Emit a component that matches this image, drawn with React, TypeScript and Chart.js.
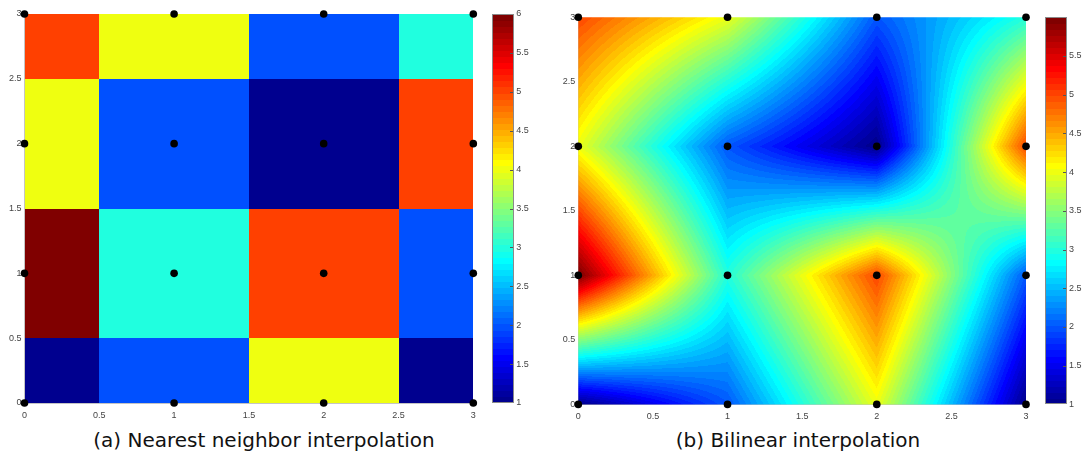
import React, { useEffect, useRef } from 'react';
import { Chart, registerables } from 'chart.js';

Chart.register(...registerables);

// grid coordinates
const gridX = [0, 1, 2, 3];
const gridY = [0, 1, 2, 3];
// values at the grid points, one row per y
const valuesY0 = [1, 2, 4, 1];
const valuesY1 = [6, 3, 5, 2];
const valuesY2 = [4, 2, 1, 5];
const valuesY3 = [5, 4, 2, 3];
const gridValues = [valuesY0, valuesY1, valuesY2, valuesY3];

const axisTicks = [0, 0.5, 1, 1.5, 2, 2.5, 3];
const colorTicksLeft = [1, 1.5, 2, 2.5, 3, 3.5, 4, 4.5, 5, 5.5, 6];
const colorTicksRight = [1, 1.5, 2, 2.5, 3, 3.5, 4, 4.5, 5, 5.5];
const colorMin = 1;
const colorMax = 6;
const captions = ['(a) Nearest neighbor interpolation', '(b) Bilinear interpolation'];

// MATLAB-style jet colormap with 64 entries
function buildJet(n: number): number[][] {
  const m = Math.ceil(n / 4);
  const u: number[] = [];
  for (let i = 1; i <= m; i++) u.push(i / m);
  for (let i = 1; i < m; i++) u.push(1);
  for (let i = m; i >= 1; i--) u.push(i / m);
  const g0 = Math.ceil(m / 2) - (n % 4 === 1 ? 1 : 0);
  const J = Array.from({ length: n }, () => [0, 0, 0]);
  u.forEach((val, k) => {
    const g = g0 + k + 1;
    const r = g + m;
    const b = g - m;
    if (r >= 1 && r <= n) J[r - 1][0] = val;
    if (g >= 1 && g <= n) J[g - 1][1] = val;
    if (b >= 1 && b <= n) J[b - 1][2] = val;
  });
  return J.map((c) => c.map((v) => Math.round(v * 255)));
}
const jet = buildJet(64);

function colorIndex(v: number): number {
  const n = jet.length;
  let idx = Math.floor(((v - colorMin) / (colorMax - colorMin)) * n);
  if (idx < 0) idx = 0;
  if (idx > n - 1) idx = n - 1;
  return idx;
}
function rgb(c: number[]): string {
  return `rgb(${c[0]},${c[1]},${c[2]})`;
}

function findCell(arr: number[], v: number): number {
  let i = 0;
  while (i < arr.length - 2 && v >= arr[i + 1]) i++;
  return i;
}

function bilinear(x: number, y: number): number {
  const i = findCell(gridX, x);
  const j = findCell(gridY, y);
  const u = (x - gridX[i]) / (gridX[i + 1] - gridX[i]);
  const t = (y - gridY[j]) / (gridY[j + 1] - gridY[j]);
  const f00 = gridValues[j][i];
  const f10 = gridValues[j][i + 1];
  const f01 = gridValues[j + 1][i];
  const f11 = gridValues[j + 1][i + 1];
  return (1 - u) * (1 - t) * f00 + u * (1 - t) * f10 + (1 - u) * t * f01 + u * t * f11;
}

const heatmapPlugin = {
  id: 'heatmap',
  beforeDatasetsDraw(chart: any, _args: any, opts: any) {
    const { ctx, chartArea: a } = chart;
    const xS = chart.scales.x;
    const yS = chart.scales.y;
    ctx.save();
    ctx.beginPath();
    ctx.rect(a.left, a.top, a.right - a.left, a.bottom - a.top);
    ctx.clip();
    if (opts.mode === 'nearest') {
      const nx = gridX.length;
      const ny = gridY.length;
      for (let j = 0; j < ny; j++) {
        for (let i = 0; i < nx; i++) {
          const xa = i === 0 ? gridX[0] : (gridX[i - 1] + gridX[i]) / 2;
          const xb = i === nx - 1 ? gridX[nx - 1] : (gridX[i] + gridX[i + 1]) / 2;
          const ya = j === 0 ? gridY[0] : (gridY[j - 1] + gridY[j]) / 2;
          const yb = j === ny - 1 ? gridY[ny - 1] : (gridY[j] + gridY[j + 1]) / 2;
          const px0 = Math.round(xS.getPixelForValue(xa));
          const px1 = Math.round(xS.getPixelForValue(xb));
          const py0 = Math.round(yS.getPixelForValue(yb));
          const py1 = Math.round(yS.getPixelForValue(ya));
          ctx.fillStyle = rgb(jet[colorIndex(gridValues[j][i])]);
          ctx.fillRect(px0, py0, px1 - px0, py1 - py0);
        }
      }
    } else {
      const x0 = Math.floor(a.left);
      const x1 = Math.ceil(a.right);
      const y0 = Math.floor(a.top);
      const y1 = Math.ceil(a.bottom);
      const w = x1 - x0;
      const h = y1 - y0;
      const off = document.createElement('canvas');
      off.width = w;
      off.height = h;
      const octx = off.getContext('2d')!;
      const img = octx.createImageData(w, h);
      const xmin = gridX[0], xmax = gridX[gridX.length - 1];
      const ymin = gridY[0], ymax = gridY[gridY.length - 1];
      for (let py = 0; py < h; py++) {
        let dy = yS.getValueForPixel(y0 + py + 0.5);
        dy = Math.min(ymax, Math.max(ymin, dy));
        for (let px = 0; px < w; px++) {
          let dx = xS.getValueForPixel(x0 + px + 0.5);
          dx = Math.min(xmax, Math.max(xmin, dx));
          const c = jet[colorIndex(bilinear(dx, dy))];
          const o = (py * w + px) * 4;
          img.data[o] = c[0];
          img.data[o + 1] = c[1];
          img.data[o + 2] = c[2];
          img.data[o + 3] = 255;
        }
      }
      octx.putImageData(img, 0, 0);
      ctx.drawImage(off, x0, y0);
    }
    ctx.restore();
  },
};

const colorbarPlugin = {
  id: 'colorbar',
  afterDatasetsDraw(chart: any, _args: any, opts: any) {
    const { ctx, chartArea: a } = chart;
    const cb = chart.scales.cb;
    const bx = Math.round(a.right + opts.gap);
    const bw = opts.width;
    const n = jet.length;
    const top = Math.round(cb.getPixelForValue(colorMax));
    const bot = Math.round(cb.getPixelForValue(colorMin));
    ctx.save();
    ctx.beginPath();
    ctx.rect(bx, top, bw, bot - top);
    ctx.clip();
    for (let k = 0; k < n; k++) {
      const vLo = colorMin + (k * (colorMax - colorMin)) / n;
      const vHi = colorMin + ((k + 1) * (colorMax - colorMin)) / n;
      const yTop = Math.floor(cb.getPixelForValue(vHi));
      const yBot = Math.ceil(cb.getPixelForValue(vLo));
      ctx.fillStyle = rgb(jet[k]);
      ctx.fillRect(bx, yTop, bw, yBot - yTop);
    }
    ctx.strokeStyle = '#555';
    ctx.lineWidth = 1;
    cb.ticks.forEach((t: any) => {
      if (t.value <= colorMin || t.value >= colorMax) return;
      const y = Math.round(cb.getPixelForValue(t.value)) + 0.5;
      ctx.beginPath();
      ctx.moveTo(bx + bw - 4, y);
      ctx.lineTo(bx + bw, y);
      ctx.stroke();
    });
    ctx.strokeStyle = '#8a8a8a';
    ctx.strokeRect(bx + 0.5, top + 0.5, bw - 1, bot - top - 1);
    ctx.restore();
  },
};

type Area = { left: number; right: number; top: number; bottom: number };
type PanelProps = {
  mode: 'nearest' | 'bilinear';
  width: number;
  height: number;
  area: Area;
  colorTicks: number[];
};

const tickFont = { family: "'Liberation Sans', Arial, sans-serif", size: 9 };
const tickColor = '#444';
const axisLine = '#c4c4c4';
const fmt = (v: any) => String(v);

function Panel({ mode, width, height, area, colorTicks }: PanelProps) {
  const ref = useRef<HTMLCanvasElement>(null);
  useEffect(() => {
    const canvas = ref.current!;
    const points: { x: number; y: number }[] = [];
    gridY.forEach((y) => gridX.forEach((x) => points.push({ x, y })));
    const chart = new Chart(canvas, {
      type: 'scatter',
      data: {
        datasets: [
          {
            data: points,
            pointRadius: 3.8,
            pointHoverRadius: 3.8,
            backgroundColor: '#000',
            borderColor: '#000',
            borderWidth: 0,
            clip: false,
          } as any,
        ],
      },
      options: {
        animation: false,
        responsive: false,
        devicePixelRatio: 1,
        events: [],
        layout: { autoPadding: false, padding: { top: area.top, left: 0, right: 0, bottom: 0 } },
        plugins: {
          legend: { display: false },
          tooltip: { enabled: false },
          heatmap: { mode },
          colorbar: { gap: 19, width: 22 },
        } as any,
        scales: {
          x: {
            type: 'linear',
            min: gridX[0],
            max: gridX[gridX.length - 1],
            afterBuildTicks: (s: any) => {
              s.ticks = axisTicks.map((v) => ({ value: v }));
            },
            afterFit: (s: any) => {
              s.height = height - area.bottom;
            },
            grid: { display: false, drawTicks: false },
            border: { display: true, color: axisLine },
            ticks: { font: tickFont, color: tickColor, padding: 7, maxRotation: 0, autoSkip: false, callback: fmt },
          },
          y: {
            type: 'linear',
            position: 'left',
            min: gridY[0],
            max: gridY[gridY.length - 1],
            afterBuildTicks: (s: any) => {
              s.ticks = axisTicks.map((v) => ({ value: v }));
            },
            afterFit: (s: any) => {
              s.width = area.left;
            },
            grid: { display: false, drawTicks: false },
            border: { display: true, color: axisLine },
            ticks: { font: tickFont, color: tickColor, padding: 3, autoSkip: false, callback: fmt },
          },
          cb: {
            type: 'linear',
            position: 'right',
            min: colorMin,
            max: colorMax,
            afterBuildTicks: (s: any) => {
              s.ticks = colorTicks.map((v) => ({ value: v }));
            },
            afterFit: (s: any) => {
              s.width = width - area.right;
            },
            grid: { display: false, drawTicks: true, tickLength: 41 },
            border: { display: false },
            ticks: { font: tickFont, color: tickColor, padding: 2, autoSkip: false, callback: fmt },
          },
        } as any,
      },
      plugins: [heatmapPlugin, colorbarPlugin],
    });
    return () => chart.destroy();
  }, []);
  return <canvas ref={ref} width={width} height={height} style={{ display: 'block', width, height }} />;
}

const captionStyle: React.CSSProperties = {
  position: 'absolute',
  top: 430,
  width: 500,
  textAlign: 'center',
  fontFamily: "'DejaVu Sans', sans-serif",
  fontSize: 20,
  lineHeight: '20px',
  color: '#111',
  whiteSpace: 'nowrap',
};

export default function App() {
  return (
    <div style={{ position: 'absolute', left: 0, top: 0, width: 1085, height: 457, background: '#fff', overflow: 'hidden' }}>
      <div style={{ position: 'absolute', left: 0, top: 0 }}>
        <Panel
          mode="nearest"
          width={545}
          height={425}
          area={{ left: 24.5, right: 473.3, top: 14, bottom: 403 }}
          colorTicks={colorTicksLeft}
        />
      </div>
      <div style={{ position: 'absolute', left: 545, top: 0 }}>
        <Panel
          mode="bilinear"
          width={540}
          height={425}
          area={{ left: 33.3, right: 481, top: 17.3, bottom: 404.4 }}
          colorTicks={colorTicksRight}
        />
      </div>
      <div style={{ ...captionStyle, left: 264 - 250 }}>{captions[0]}</div>
      <div style={{ ...captionStyle, left: 798 - 250 }}>{captions[1]}</div>
    </div>
  );
}
